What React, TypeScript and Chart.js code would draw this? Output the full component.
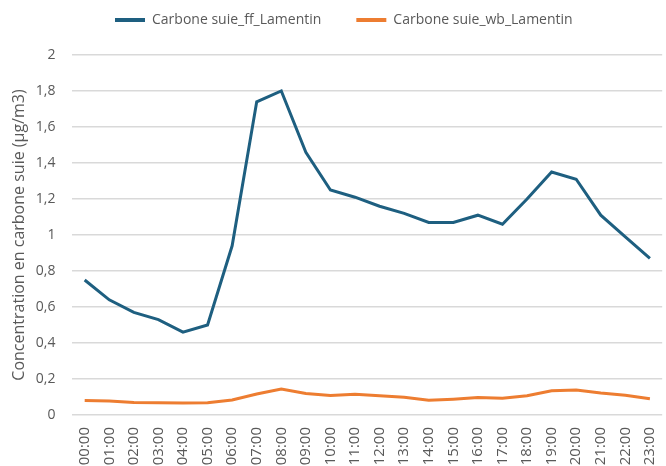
import React, { useEffect, useRef } from "react";
import { Chart, registerables } from "chart.js";

Chart.register(...registerables);

const hours = [
  "00:00", "01:00", "02:00", "03:00", "04:00", "05:00", "06:00", "07:00",
  "08:00", "09:00", "10:00", "11:00", "12:00", "13:00", "14:00", "15:00",
  "16:00", "17:00", "18:00", "19:00", "20:00", "21:00", "22:00", "23:00",
];

const ffLamentin = [
  0.75, 0.64, 0.57, 0.53, 0.46, 0.5, 0.94, 1.74, 1.8, 1.46, 1.25, 1.21,
  1.16, 1.12, 1.07, 1.07, 1.11, 1.06, 1.2, 1.35, 1.31, 1.11, 0.99, 0.87,
];

const wbLamentin = [
  0.08, 0.078, 0.07, 0.068, 0.067, 0.068, 0.083, 0.117, 0.144, 0.12, 0.109, 0.115,
  0.107, 0.098, 0.082, 0.088, 0.097, 0.093, 0.107, 0.135, 0.139, 0.122, 0.11, 0.09,
];

const seriesNames = ["Carbone suie_ff_Lamentin", "Carbone suie_wb_Lamentin"];
const yTitle = "Concentration en carbone suie (µg/m3)";
const yMin = 0;
const yMax = 2;
const yStep = 0.2;

const W = 680;
const H = 490;
const TEXT = "#595959";
const LEGEND_FONT = 14;
const LEGEND_PAD = 35;

export default function App() {
  const ref = useRef<HTMLCanvasElement | null>(null);

  useEffect(() => {
    if (!ref.current) return;
    Chart.defaults.font.family = "'Open Sans', 'Noto Sans', sans-serif";
    const legendPos = {
      id: "legendPos",
      afterLayout(chart: any) {
        const lg = chart.legend;
        if (!lg) return;
        lg.left = 115 - LEGEND_PAD;
        lg.right = lg.left + 620;
        lg.top = 20 - LEGEND_FONT / 2 - LEGEND_PAD;
      },
    };
    const chart = new Chart(ref.current, {
      type: "line",
      data: {
        labels: hours,
        datasets: [
          {
            label: seriesNames[0],
            data: ffLamentin,
            borderColor: "#1e5f80",
            backgroundColor: "#1e5f80",
            borderWidth: 3,
            pointRadius: 0,
            tension: 0,
          },
          {
            label: seriesNames[1],
            data: wbLamentin,
            borderColor: "#ed7d31",
            backgroundColor: "#ed7d31",
            borderWidth: 3,
            pointRadius: 0,
            tension: 0,
          },
        ],
      },
      options: {
        animation: false,
        responsive: false,
        devicePixelRatio: 1,
        layout: {
          padding: { left: 6, right: 4.4, top: 55 - (LEGEND_FONT + LEGEND_PAD + 10), bottom: 0 },
        },
        plugins: {
          tooltip: { enabled: false },
          legend: {
            position: "top",
            align: "start",
            labels: {
              color: TEXT,
              font: { size: LEGEND_FONT },
              boxWidth: 30,
              boxHeight: 4,
              padding: LEGEND_PAD,
              generateLabels: (c: any) =>
                Chart.defaults.plugins.legend.labels
                  .generateLabels(c)
                  .map((l: any) => ({ ...l, lineWidth: 0, fillStyle: l.strokeStyle })),
            },
          },
        },
        scales: {
          x: {
            offset: true,
            grid: { display: false, drawTicks: false },
            border: { display: false },
            ticks: {
              color: TEXT,
              font: { size: 15 },
              minRotation: 90,
              maxRotation: 90,
              autoSkip: false,
              padding: 12,
            },
            afterFit: (s: any) => {
              s.height = H - 415;
            },
          },
          y: {
            min: yMin,
            max: yMax,
            grid: { color: "#d9d9d9", lineWidth: 1.5, drawTicks: false },
            border: { display: false },
            ticks: {
              stepSize: yStep,
              color: TEXT,
              font: { size: 14 },
              padding: 17,
              callback: (v: any) => String(Number(Number(v).toFixed(1))).replace(".", ","),
            },
            title: {
              display: true,
              text: yTitle,
              color: TEXT,
              font: { size: 16 },
            },
            afterFit: (s: any) => {
              s.width = 72.4 - 6;
            },
          },
        },
      },
      plugins: [legendPos],
    });
    return () => chart.destroy();
  }, []);

  return (
    <div
      style={{
        position: "fixed",
        left: 0,
        top: 0,
        width: 666,
        height: 466,
        overflow: "hidden",
        background: "#fff",
      }}
    >
      <canvas ref={ref} width={W} height={H} style={{ width: W, height: H, display: "block" }} />
    </div>
  );
}
